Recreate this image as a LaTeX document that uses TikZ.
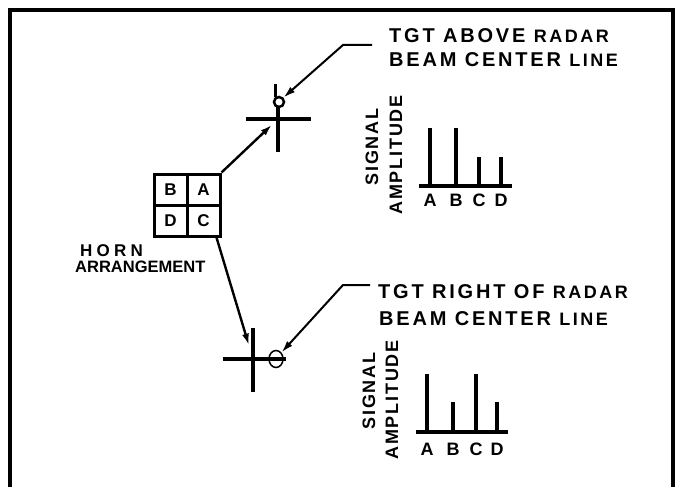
\documentclass[tikz,border=0pt]{standalone}
\usepackage{fontspec}
\setmainfont{Liberation Sans}
\newfontfamily\callfont[LetterSpace=14]{Liberation Sans}
\newfontfamily\widefont[LetterSpace=25]{Liberation Sans}
\newfontfamily\ampfont[LetterSpace=10]{Liberation Sans}
\usetikzlibrary{positioning}
\usetikzlibrary{calc}
\usetikzlibrary{arrows.meta}
\usetikzlibrary{shapes.geometric}
\newcommand{\smcaps}[1]{{\fontsize{18}{20}\selectfont #1}}

\begin{document}
\begin{tikzpicture}[
    x=1pt, y=-1pt,
    frame/.style={line width=3.5pt},
    cell/.style={draw, line width=3pt, minimum width=33pt, minimum height=31pt, inner sep=0pt, font=\bfseries\fontsize{17}{17}\selectfont},
    callout/.style={anchor=base west, inner sep=0pt, font=\callfont\bfseries\fontsize{20}{20}\selectfont},
    hornlabel/.style={anchor=base west, inner sep=0pt, font=\bfseries\fontsize{17}{17}\selectfont},
    hairline/.style={line width=3.5pt},
    bar/.style={line width=3.5pt},
    barlabel/.style={anchor=base, inner sep=0pt, font=\bfseries\fontsize{18}{18}\selectfont},
    axislabel/.style={rotate=90, inner sep=0pt, font=\ampfont\bfseries\fontsize{18}{18}\selectfont},
    pointer/.style={->, line width=2.4pt},
    >={Latex[length=12pt,width=7pt]}
]
    \useasboundingbox (0,0) rectangle (681,487);
    % frame, open at the bottom
    \draw[frame] (10,487) -- (10,10) -- (673,10) -- (673,487);

    % horn arrangement
    \node[cell] (cellB) at (170.5,189.5) {B};
    \node[cell] (cellA) at (203.5,189.5) {A};
    \node[cell] (cellD) at (170.5,220.5) {D};
    \node[cell] (cellC) at (203.5,220.5) {C};
    \node[hornlabel, font=\widefont\bfseries\fontsize{17}{17}\selectfont] (horn) at (80,256) {HORN};
    \node[hornlabel, font=\bfseries\fontsize{16.5}{16.5}\selectfont] (arrangement) at (75,272) {ARRANGEMENT};

    % target above beam center line
    \coordinate (crossup) at (278,119);
    \draw[hairline] ($(crossup)+(-32,0)$) -- ($(crossup)+(33,0)$);
    \draw[hairline] ($(crossup)+(0,-12)$) -- ($(crossup)+(0,33)$);
    \node[circle, draw, line width=2.5pt, minimum size=10pt, inner sep=0pt] (tgtup) at (279,102) {};
    \draw[line width=2.5pt] (tgtup.125) -- ++(0,-13);
    \draw[pointer, shorten >=8pt] (cellA.north east) -- (crossup);

    \node[callout] (above1) at (389,43) {TGT ABOVE \smcaps{RADAR}};
    \node[callout] (above2) at (389,67) {BEAM CENTER \smcaps{LINE}};
    \coordinate (abovestart) at (372,45);
    \coordinate (aboveknee) at (343,45);
    \draw[pointer, line width=2pt] (abovestart) -- (aboveknee) -- (tgtup.north east);

    % target right of beam center line
    \coordinate (crossright) at (253,359);
    \draw[hairline] ($(crossright)+(-30,0)$) -- ($(crossright)+(33,0)$);
    \draw[hairline] ($(crossright)+(0,-31)$) -- ($(crossright)+(0,33)$);
    \node[ellipse, draw, line width=1.5pt, minimum width=14pt, minimum height=17pt, inner sep=0pt] (tgtright) at (276,359) {};
    \draw[pointer, shorten >=14pt] ([xshift=-5pt]cellC.south east) -- (crossright);

    \node[callout] (right1) at (378,298) {TGT RIGHT OF \smcaps{RADAR}};
    \node[callout] (right2) at (379,325) {BEAM CENTER \smcaps{LINE}};
    \coordinate (rightstart) at (370,285);
    \coordinate (rightknee) at (343,285);
    \draw[pointer, line width=2pt] (rightstart) -- (rightknee) -- (tgtright.north east);

    % upper signal chart
    \node[axislabel] (upsignal) at (372,147) {SIGNAL};
    \node[axislabel] (upamp) at (396,155) {AMPLITUDE};
    \draw[bar] (419,186) -- (512,186);
    \draw[bar] (430,186) -- (430,128);
    \draw[bar] (456,186) -- (456,128);
    \draw[bar] (479,186) -- (479,157);
    \draw[bar] (501,186) -- (501,157);
    \node[barlabel] (upA) at (430,206) {A};
    \node[barlabel] (upB) at (456,206) {B};
    \node[barlabel] (upC) at (479,206) {C};
    \node[barlabel] (upD) at (501,206) {D};

    % lower signal chart
    \node[axislabel] (lowsignal) at (369,391) {SIGNAL};
    \node[axislabel] (lowamp) at (392,400) {AMPLITUDE};
    \draw[bar] (416,432) -- (508,432);
    \draw[bar] (427,432) -- (427,374);
    \draw[bar] (453,432) -- (453,402);
    \draw[bar] (476,432) -- (476,374);
    \draw[bar] (497,432) -- (497,402);
    \node[barlabel] (lowA) at (427,455) {A};
    \node[barlabel] (lowB) at (453,455) {B};
    \node[barlabel] (lowC) at (476,455) {C};
    \node[barlabel] (lowD) at (497,455) {D};
\end{tikzpicture}
\end{document}
